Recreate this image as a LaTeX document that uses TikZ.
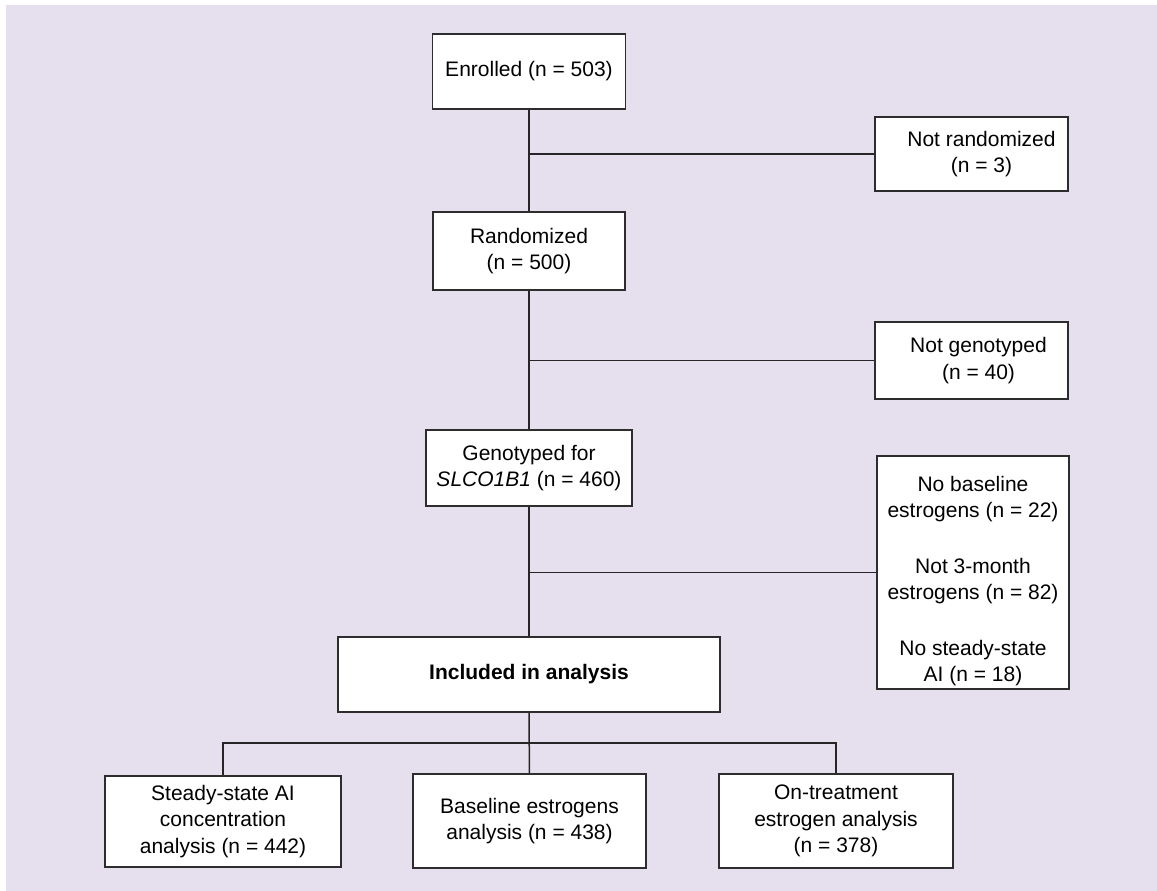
\documentclass[tikz,border=0pt]{standalone}
\usepackage{fontspec}
\setmainfont{Liberation Sans}
\usetikzlibrary{positioning, calc}
\definecolor{lavender}{RGB}{230,224,238}
\definecolor{boxline}{RGB}{45,45,45}
\begin{document}
\begin{tikzpicture}[x=1pt, y=-1pt, block/.style={rectangle, draw=boxline, line width=1.5pt, fill=white, align=center, inner sep=0pt, font=\fontsize{21}{26.5}\selectfont}, link/.style={-, black!85, line width=1.5pt}]
\useasboundingbox (0,0) rectangle (1157,891);
\fill [lavender] (6,5) rectangle (1157,891);
\node (b1) [block, minimum width=193pt, minimum height=75pt] at (529,71.5) {Enrolled (n = 503)};
\node (b2) [block, minimum width=192pt, minimum height=78pt] at (529,251) {Randomized\\(n = 500)};
\node (b3) [block, minimum width=206pt, minimum height=76pt] at (529,468) {Genotyped for\\\textit{SLCO1B1} (n = 460)};
\node (b4) [block, minimum width=382pt, minimum height=75pt] at (529,674.5) {\textbf{Included in analysis}};
\node (r1) [block, minimum width=193pt, minimum height=74pt] at (971.5,154) {\hspace*{20pt}Not randomized\\\hspace*{20pt}(n = 3)};
\node (r2) [block, minimum width=193pt, minimum height=77pt] at (971.5,360.5) {\hspace*{14pt}Not genotyped\\\hspace*{14pt}(n = 40)};
\node (r3) [block, minimum width=192pt, minimum height=233pt] at (973,572.5) {\rule{0pt}{32pt}No baseline\\estrogens (n = 22)\\[29pt]Not 3-month\\estrogens (n = 82)\\[29pt]No steady-state\\AI (n = 18)};
\node (c1) [block, minimum width=236pt, minimum height=91pt] at (223,821.5) {Steady-state AI\\concentration\\analysis (n = 442)};
\node (c2) [block, minimum width=233pt, minimum height=94pt] at (529.5,821) {Baseline estrogens\\analysis (n = 438)};
\node (c3) [block, minimum width=234pt, minimum height=94pt] at (836,821) {On-treatment\\estrogen analysis\\(n = 378)};
  \begin{scope}
    \draw [link] (b1) -- (b2);
    \draw [link] (b2) -- (b3);
    \draw [link] (b3) -- (b4);
    \draw [link] (b4) -- (c2);
    \draw [link] (b1 |- r1.west) -- (r1.west);
    \draw [link] (b2 |- r2.west) -- (r2.west);
    \draw [link] (b3 |- r3.west) -- (r3.west);
    \draw [link] (c1.north) |- ($(b4.south)!0.5!(c2.north)$) -| (c3.north);
  \end{scope}
\end{tikzpicture}
\end{document}
